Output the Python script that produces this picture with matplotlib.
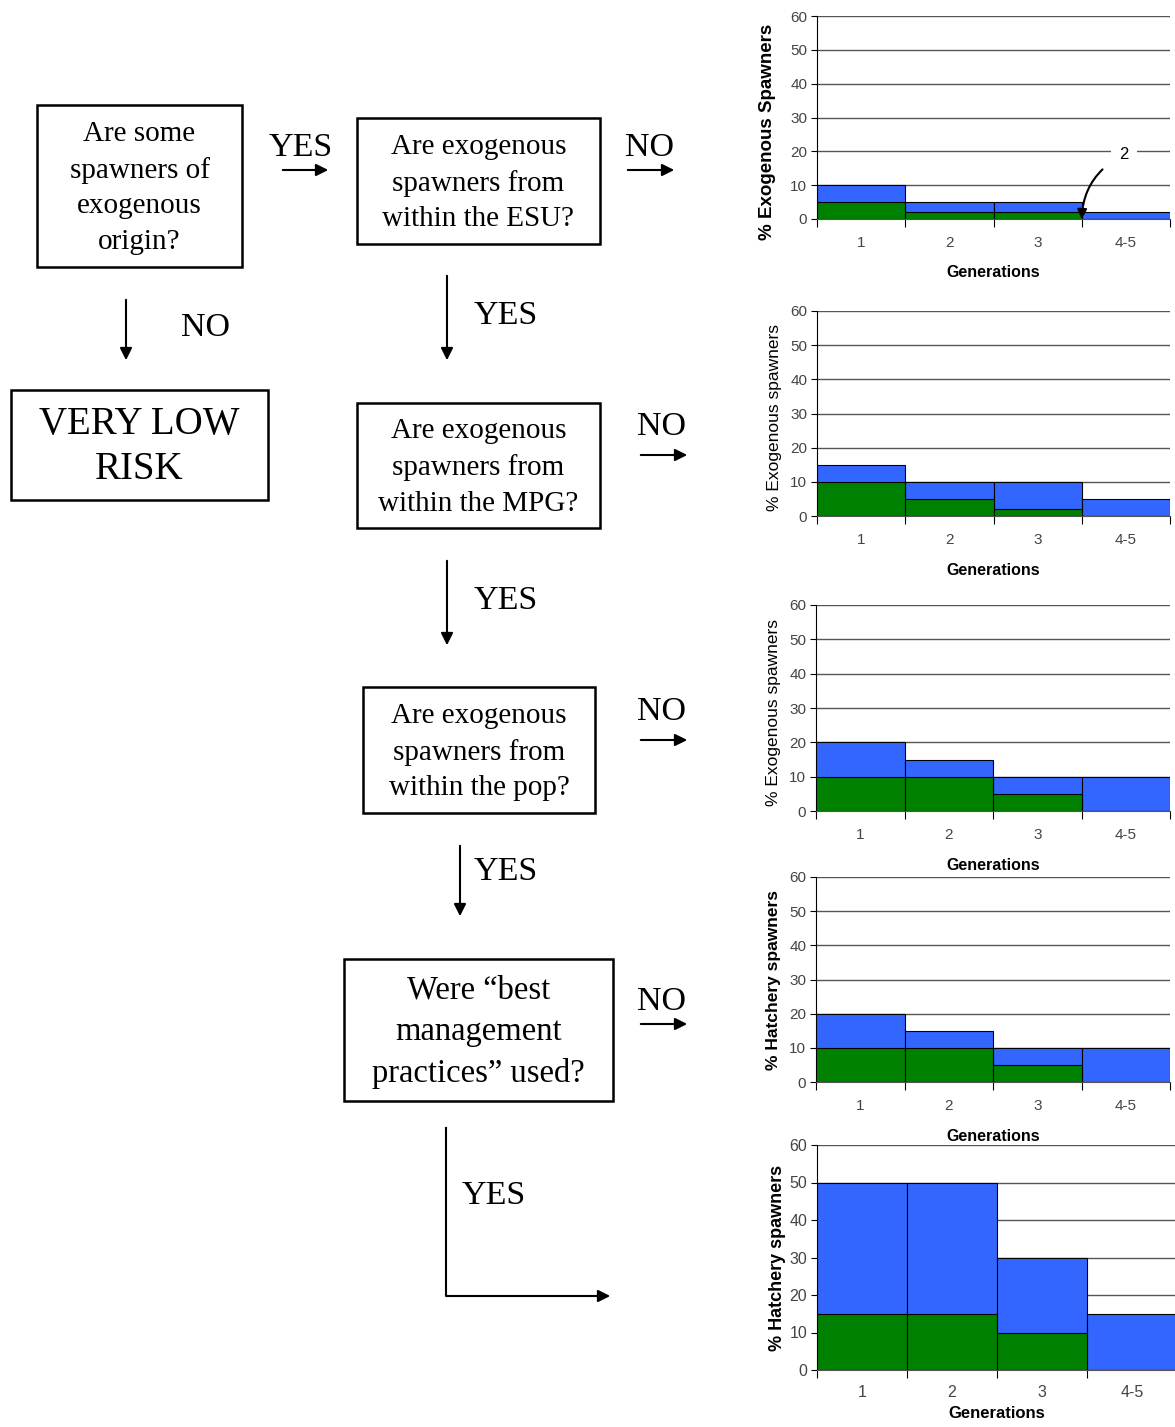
import numpy as np
import matplotlib
matplotlib.use("Agg")
import matplotlib.pyplot as plt

W, H = 1175, 1427

gens = ["1", "2", "3", "4-5"]
blue_vals = [
    [10, 5, 5, 2],
    [15, 10, 10, 5],
    [20, 15, 10, 10],
    [20, 15, 10, 10],
    [50, 50, 30, 15],
]
green_vals = [
    [5, 2, 2, 0],
    [10, 5, 2, 0],
    [10, 10, 5, 0],
    [10, 10, 5, 0],
    [15, 15, 10, 0],
]
ylabels = ["% Exogenous Spawners", "% Exogenous spawners", "% Exogenous spawners",
           "% Hatchery spawners", "% Hatchery spawners"]
ylabel_bold = [True, False, False, True, True]
ylabel_size = [13.5, 12.5, 12.5, 12.5, 13]
ylabel_ypos = [0.43, 0.48, 0.48, 0.5, 0.5]
ylabel_xpos = [-0.115, -0.1, -0.1, -0.1, -0.085]
# pixel boxes: left, top, right, bottom
chart_px = [(817, 16, 1170, 219), (817, 311, 1170, 516), (816, 605, 1170, 811),
            (816, 877, 1170, 1082), (817, 1145, 1177, 1370)]
xlab_pad = [11, 12, 12, 12, 4]

fig = plt.figure(figsize=(W / 100, H / 100), dpi=100)

# flowchart overlay
fl = fig.add_axes([0, 0, 1, 1])
fl.set_xlim(0, W)
fl.set_ylim(H, 0)
fl.axis("off")
serif = "Liberation Serif"

def box(x0, y0, x1, y1, text, size=21, ls=1.47):
    fl.add_patch(plt.Rectangle((x0, y0), x1 - x0, y1 - y0, fill=False, lw=1.8, ec="black"))
    fl.text((x0 + x1) / 2, (y0 + y1) / 2 + 2, text, ha="center", va="center",
            fontsize=size, family=serif, linespacing=ls)

def arrow(x0, y0, x1, y1):
    fl.annotate("", xy=(x1, y1), xytext=(x0, y0),
                arrowprops=dict(arrowstyle="-|>", lw=1.5, color="black", mutation_scale=18))

def label(x, y, s):
    fl.text(x, y, s, ha="center", va="center", fontsize=24.5, family=serif)

box(37, 105, 242, 267, "Are some\nspawners of\nexogenous\norigin?")
box(357, 118, 600, 244, "Are exogenous\nspawners from\nwithin the ESU?")
box(11, 390, 268, 500, "VERY LOW\nRISK", size=28, ls=1.3)
box(357, 403, 600, 528, "Are exogenous\nspawners from\nwithin the MPG?")
box(363, 687, 595, 813, "Are exogenous\nspawners from\nwithin the pop?")
box(344, 959, 613, 1101, "Were \u201cbest\nmanagement\npractices\u201d used?", size=23.5, ls=1.47)

label(301, 148, "YES"); arrow(280, 170, 331, 170)
label(650, 148, "NO"); arrow(625, 170, 677, 170)
label(205, 328, "NO"); arrow(126, 297, 126, 363)
label(506, 316, "YES"); arrow(447, 273, 447, 363)
label(662, 427, "NO"); arrow(638, 455, 690, 455)
label(506, 601, "YES"); arrow(447, 558, 447, 648)
label(662, 712, "NO"); arrow(638, 740, 690, 740)
label(506, 872, "YES"); arrow(460, 843, 460, 919)
label(662, 1002, "NO"); arrow(638, 1024, 690, 1024)
label(494, 1196, "YES")
fl.plot([446, 446, 600], [1128, 1296, 1296], color="black", lw=1.5)
arrow(595, 1296, 613, 1296)

sans = "Liberation Sans"
x = np.arange(len(gens))
for i in range(5):
    l, t, r, b = chart_px[i]
    ax = fig.add_axes([l / W, 1 - b / H, (r - l) / W, (b - t) / H])
    ax.bar(x, blue_vals[i], width=1.0, color="#3366ff", edgecolor="black", lw=0.8, zorder=2)
    ax.bar(x, green_vals[i], width=1.0, color="#008000", edgecolor="black", lw=0.8, zorder=3)
    ax.set_xlim(-0.5, 3.5)
    ax.set_ylim(0, 60)
    ax.set_yticks(range(0, 61, 10))
    ax.yaxis.grid(True, color="#555555", lw=1.0, zorder=0)
    ax.set_axisbelow(True)
    ax.set_xticks(np.arange(-0.5, 3.6, 1.0))
    ax.set_xticklabels([])
    ax.set_xticks(x, minor=True)
    ax.set_xticklabels(gens, minor=True)
    ax.tick_params(axis="x", which="major", length=6, color="black", direction="out")
    ax.tick_params(axis="x", which="minor", length=0, pad=12 if i < 4 else 11)
    ax.tick_params(axis="y", length=4, pad=3)
    fs = 11.5 if i == 4 else 11
    for lab in ax.get_xticklabels(minor=True) + ax.get_yticklabels():
        lab.set_family(sans)
        lab.set_fontsize(fs)
        lab.set_color("#444444")
    for s in ["top", "right"]:
        ax.spines[s].set_visible(False)
    ax.spines["bottom"].set_color("#555555")
    ax.spines["left"].set_color("black")
    ax.set_xlabel("Generations", family=sans, fontsize=12 if i == 4 else 11.5,
                  fontweight="bold", labelpad=xlab_pad[i])
    ax.set_ylabel(ylabels[i], family=sans, fontsize=ylabel_size[i],
                  fontweight="bold" if ylabel_bold[i] else "normal")
    ax.yaxis.set_label_coords(ylabel_xpos[i], ylabel_ypos[i])
    ax.patch.set_alpha(0)
    if i == 0:
        ax.annotate("2", xy=(2.5, 0), xytext=(2.98, 19), ha="center", va="center",
                    fontsize=12, family=sans,
                    bbox=dict(fc="white", ec="none", pad=6),
                    arrowprops=dict(arrowstyle="-|>", lw=1.5, color="black",
                                    connectionstyle="arc3,rad=0.3", mutation_scale=14,
                                    shrinkA=8, shrinkB=0))

fig.savefig("out.png", dpi=100)
